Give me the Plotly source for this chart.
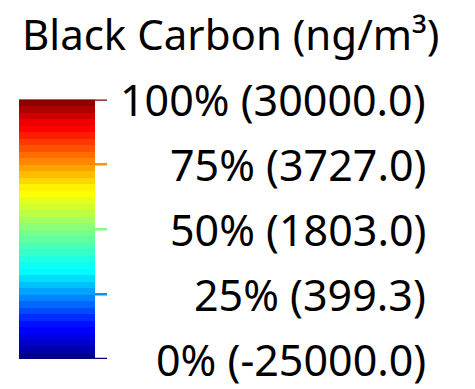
import numpy as np
import plotly.graph_objects as go
from plotly.colors import sample_colorscale

# ---- data ----
title_text = "Black Carbon (ng/m³)"
tick_percents = [0, 25, 50, 75, 100]
tick_values = [-25000.0, 399.3, 1803.0, 3727.0, 30000.0]
n_levels = 40

W, H = 475, 389
jet = [[0.0, "#00007f"], [0.11, "#0000ff"], [0.125, "#0000ff"], [0.34, "#00ffff"],
       [0.35, "#00ffff"], [0.5, "#80ff80"], [0.64, "#ffff00"], [0.65, "#ffff00"],
       [0.89, "#ff0000"], [0.9, "#ff0000"], [1.0, "#7f0000"]]

levels = np.arange(n_levels)
level_frac = (levels + 0.5) / n_levels
level_colors = sample_colorscale(jet, list(level_frac))
dcs = []
for i, c in enumerate(level_colors):
    dcs.append([i / n_levels, c])
    dcs.append([(i + 1) / n_levels, c])

y_edges = list(np.linspace(0, 100, n_levels + 1))
fig = go.Figure()
fig.add_trace(go.Heatmap(
    z=[[int(i)] for i in levels], x=[0, 76], y=y_edges,
    colorscale=dcs, zmin=-0.5, zmax=n_levels - 0.5, showscale=False, hoverinfo="skip",
))

tick_colors = sample_colorscale(jet, [p / 100 for p in tick_percents])
for p, c in zip(tick_percents, tick_colors):
    x_start = 0 if p in (0, 100) else 76
    fig.add_trace(go.Scatter(x=[x_start, 88], y=[p, p], mode="lines",
                             line=dict(color=c, width=2.5), hoverinfo="skip",
                             showlegend=False, cliponaxis=False))

y0p = (H - 359) / H
y1p = (H - 99.5) / H
fig.update_layout(
    width=W, height=H, margin=dict(l=0, r=0, t=0, b=0),
    paper_bgcolor="white", plot_bgcolor="white", showlegend=False,
    xaxis=dict(domain=[19 / W, 107 / W], range=[0, 88], visible=False, fixedrange=True),
    yaxis=dict(domain=[y0p, y1p], range=[0, 100], visible=False, fixedrange=True),
    font=dict(family="Noto Sans", color="black"),
)

for p, v in zip(tick_percents, tick_values):
    fig.add_annotation(x=428 / W, xref="paper", xanchor="right",
                       y=p, yref="y", yanchor="middle",
                       text=f"{p}% ({v:.1f})", showarrow=False,
                       font=dict(size=43, family="Noto Sans", color="black"))

fig.add_annotation(x=20 / W, xref="paper", xanchor="left",
                   y=1 - 33 / H, yref="paper", yanchor="middle",
                   text=title_text, showarrow=False,
                   font=dict(size=42, family="Noto Sans", color="black"))

fig.write_html("out.html")
